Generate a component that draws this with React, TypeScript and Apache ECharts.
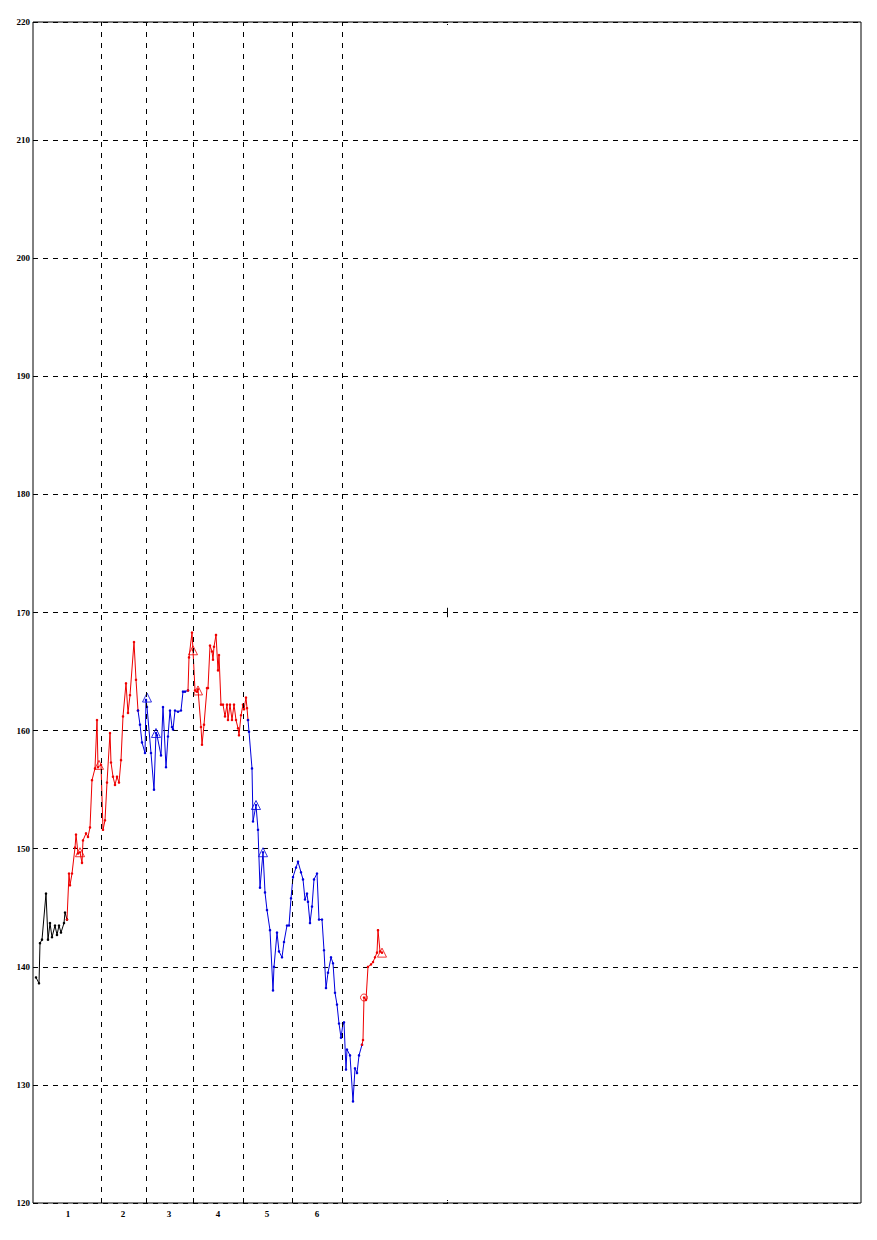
import React, { useEffect, useRef } from "react";
import * as echarts from "echarts";

// x = trading-day index, y = price
const blackSeg: number[][] = [
  [1.5, 139.1], [3, 138.6], [3.5, 142.0], [4.5, 142.3], [6.5, 146.2], [7.5, 142.3], [8.5, 143.7],
  [9.5, 142.5], [11, 143.5], [12, 142.7], [13, 143.5], [14, 142.9], [15.5, 143.7], [16, 144.6], [17, 144.0],
];
const redSeg1: number[][] = [
  [17, 144.0], [18, 147.9], [18.5, 146.9], [19.5, 147.9], [21, 150.1], [21.5, 151.2], [22.5, 149.6],
  [23.5, 149.7], [24.5, 148.8], [25, 150.7], [26.5, 151.3], [27.5, 151.0], [28.5, 151.8], [29.5, 155.8],
  [31, 156.8], [32, 160.9], [32.5, 156.9], [34, 157.1], [35, 151.6], [36, 152.4], [37, 155.6],
  [38.5, 159.8], [39, 157.3], [40, 156.1], [41, 155.4], [42, 156.1], [43, 155.6], [44, 157.5],
  [45, 161.2], [46.5, 164.0], [47.5, 161.5], [48.5, 163.0], [50.5, 167.5], [51.5, 164.3], [52.5, 161.7],
];
const blueSeg1: number[][] = [
  [52.5, 161.7], [53.5, 160.5], [54.5, 159.0], [56, 158.1], [56.5, 162.6], [57, 162.0], [59, 158.1],
  [60.5, 155.0], [61.5, 159.8], [62, 159.6], [64, 157.9], [65, 162.0], [66.5, 156.9], [67.5, 159.5],
  [68.5, 161.7], [69.5, 160.3], [70, 160.1], [71, 161.7], [72.5, 161.6], [74, 161.7], [75, 163.3],
  [76, 163.3], [77.5, 163.4],
];
const redSeg2: number[][] = [
  [77.5, 163.4], [78, 166.2], [79.5, 168.3], [80, 166.8], [81, 163.4], [82, 163.3], [82.5, 163.5],
  [84, 160.3], [84.5, 158.8], [85.5, 160.5], [87, 163.6], [87.5, 163.6], [88.5, 167.2], [89.5, 166.7],
  [90, 166.0], [90.5, 167.1], [91.5, 168.1], [92.5, 165.1], [93, 166.4], [94, 162.2], [95, 162.2],
  [96, 161.2], [97, 162.2], [97.5, 160.9], [98.5, 162.2], [99.5, 160.9], [100.5, 162.2], [101.5, 160.9],
  [102.5, 160.2], [103, 159.6], [104, 161.3], [105, 162.2], [105.5, 161.8], [106.5, 162.8], [107, 161.9],
  [107.5, 160.9],
];
const blueSeg2: number[][] = [
  [107.5, 160.9], [108, 159.9], [109.5, 156.8], [110, 152.3], [111.5, 153.7], [112.5, 151.6],
  [113.5, 146.7], [115, 149.7], [116, 146.3], [117, 144.8], [118.5, 143.1], [120, 138.0], [120.5, 140.0],
  [122, 142.9], [123, 141.3], [124.5, 140.8], [125.5, 142.1], [127, 143.5], [128, 143.5], [129, 145.8],
  [130, 147.6], [131.5, 148.4], [132.5, 148.9], [134, 148.0], [135, 147.4], [136, 145.7], [137, 146.2],
  [137.5, 145.5], [138.5, 143.7], [139.5, 145.1], [140.5, 147.4], [142, 147.9], [143, 144.0],
  [144.5, 144.0], [145.5, 141.4], [146.5, 138.2], [147.5, 139.5], [149, 140.8], [150, 140.3],
  [151, 137.8], [152, 136.8], [153, 135.2], [154, 134.0], [155, 135.2], [155.5, 135.3], [156.5, 131.3],
  [157, 133.0], [158.5, 132.5], [160, 128.6], [161, 131.4], [162, 131.0], [163, 132.5], [164.5, 133.4],
];
const redSeg3: number[][] = [
  [164.5, 133.4], [165, 133.8], [165.5, 137.4], [166.5, 137.2], [167.5, 140.0], [169, 140.2],
  [170, 140.4], [171, 140.8], [172, 141.2], [172.5, 143.1], [173.5, 141.3], [174.5, 141.2],
];
const redTriangles: number[][] = [[23.5, 149.7], [33, 157.1], [80, 166.8], [82.5, 163.4], [174.5, 141.2]];
const blueTriangles: number[][] = [[57, 162.8], [61.5, 159.8], [111.5, 153.7], [115, 149.7]];
const redCircles: number[][] = [[165.5, 137.4]];

const monthBoundaries: number[] = [34, 56.5, 80, 105, 129.5, 154.5];
const monthCenters: number[] = [17.5, 45, 68, 92.5, 117, 142];
const monthLabels: string[] = ["1", "2", "3", "4", "5", "6"];
const xMax = 414;
const xMid = 207;

const RED = "#ee0000";
const BLUE = "#0000dd";
const BLACK = "#000000";
const FONT = "Liberation Serif";

function lineSeries(data: number[][], color: string, extra: any = {}) {
  return {
    type: "line",
    data,
    xAxisIndex: 0,
    yAxisIndex: 0,
    symbol: "circle",
    symbolSize: 2.5,
    showSymbol: true,
    lineStyle: { color, width: 1 },
    itemStyle: { color },
    silent: true,
    z: 3,
    ...extra,
  };
}

function markerSeries(data: number[][], color: string, symbol: string, size: number) {
  return {
    type: "scatter",
    data,
    symbol,
    symbolSize: size,
    itemStyle: { color: "rgba(0,0,0,0)", borderColor: color, borderWidth: 1 },
    silent: true,
    z: 4,
  };
}

export default function App() {
  const ref = useRef<HTMLDivElement>(null);
  useEffect(() => {
    if (!ref.current) return;
    const chart = echarts.init(ref.current, null, { renderer: "svg" });
    const option: any = {
      animation: false,
      backgroundColor: "#ffffff",
      grid: {
        left: 33, top: 22, right: 16, bottom: 37,
        show: true, borderColor: BLACK, borderWidth: 1, backgroundColor: "transparent",
      },
      xAxis: [
        {
          type: "value", min: 0, max: xMax, position: "bottom",
          axisLine: { show: false },
          splitLine: { show: false },
          axisTick: { show: true, inside: true, length: 4, customValues: [xMid], lineStyle: { color: BLACK, type: [1, 1] } },
          axisLabel: {
            show: true, customValues: monthCenters, margin: 6,
            fontFamily: FONT, fontSize: 9, fontWeight: "bold", color: BLACK,
            formatter: (v: number) => {
              const i = monthCenters.indexOf(v);
              return i >= 0 ? monthLabels[i] : "";
            },
          },
        },
        {
          type: "value", min: 0, max: xMax, position: "top",
          axisLine: { show: false },
          splitLine: { show: false },
          axisTick: { show: true, inside: true, length: 4, customValues: [xMid], lineStyle: { color: BLACK, type: [1, 1] } },
          axisLabel: { show: false },
        },
      ],
      yAxis: {
        type: "value", min: 120, max: 220, interval: 10,
        axisLine: { show: false },
        axisTick: { show: false },
        axisLabel: { fontFamily: FONT, fontSize: 9, fontWeight: "bold", color: BLACK, margin: 3 },
        splitLine: { show: true, lineStyle: { color: BLACK, width: 1, type: [5, 5] } },
      },
      series: [
        lineSeries(blackSeg, BLACK, {
          markLine: {
            silent: true,
            symbol: ["none", "none"],
            label: { show: false },
            animation: false,
            data: [
              ...monthBoundaries.map((v) => ({ xAxis: v, lineStyle: { color: BLACK, width: 1, type: [5, 6] } })),
              [
                { coord: [xMid, 169.6], lineStyle: { color: BLACK, width: 1, type: "solid" } },
                { coord: [xMid, 170.4] },
              ],
            ],
          },
        }),
        lineSeries(redSeg1, RED),
        lineSeries(blueSeg1, BLUE),
        lineSeries(redSeg2, RED),
        lineSeries(blueSeg2, BLUE),
        lineSeries(redSeg3, RED),
        markerSeries(redTriangles, RED, "triangle", 9),
        markerSeries(blueTriangles, BLUE, "triangle", 9),
        markerSeries(redCircles, RED, "circle", 7),
      ],
    };
    chart.setOption(option);
    return () => chart.dispose();
  }, []);
  return (
    <div
      ref={ref}
      style={{ position: "fixed", left: 0, top: 0, width: 877, height: 1240, background: "#fff" }}
    />
  );
}
